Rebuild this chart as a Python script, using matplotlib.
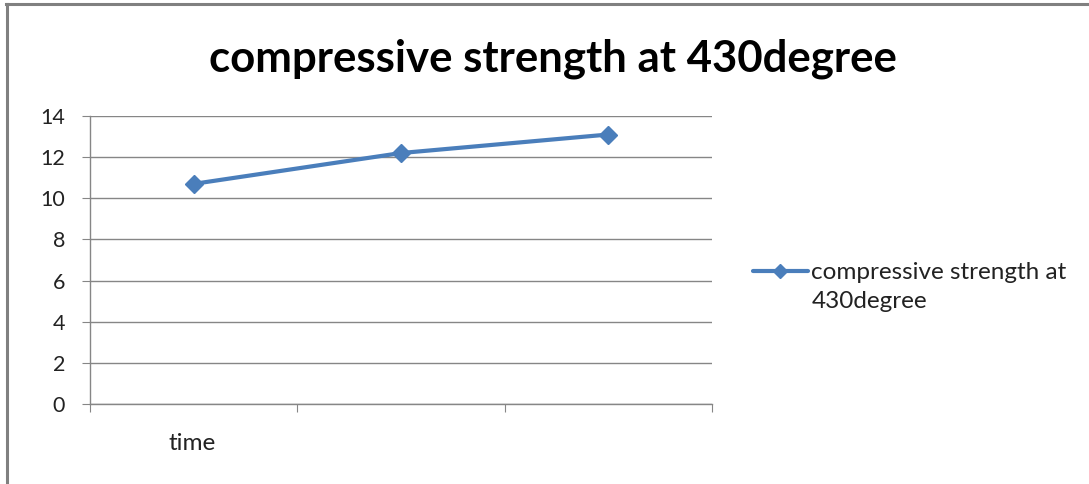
import matplotlib
matplotlib.use("Agg")
import matplotlib.pyplot as plt
from matplotlib.lines import Line2D
from matplotlib.legend_handler import HandlerLine2D

categories = ["1", "2", "3"]
values = [10.7, 12.2, 13.1]
series_name = "compressive strength at\n430degree"
title = "compressive strength at 430degree"
yticks = [0, 2, 4, 6, 8, 10, 12, 14]

W, H = 1089, 484
fig = plt.figure(figsize=(W / 100, H / 100), dpi=100)
fig.patch.set_facecolor("white")

ax = fig.add_axes([90 / W, 1 - 404 / H, (712 - 90) / W, (404 - 116) / H])
FONT = "Lato"
blue = "#4A7EBB"
grid = "#868686"
txt = "#222222"

x = list(range(len(categories)))
ax.plot(x, values, color=blue, lw=3, marker="D", ms=9, mfc=blue, mec=blue,
        label=series_name, solid_capstyle="round")

ax.set_xlim(-0.5, len(categories) - 0.5)
ax.set_ylim(0, 14)
ax.set_yticks(yticks)
ax.set_yticklabels([str(t) for t in yticks], fontfamily=FONT, fontsize=15.5, color=txt)
ax.yaxis.grid(True, color=grid, lw=1.0)
ax.set_axisbelow(True)
ax.set_xticks([])
ax.set_xticks([i - 0.5 for i in range(len(categories) + 1)], minor=True)
ax.tick_params(axis="x", which="minor", length=6, width=0.8, color=grid, direction="out")
ax.tick_params(axis="y", length=6, width=0.8, color=grid, pad=12)
for s in ["top", "right"]:
    ax.spines[s].set_visible(False)
for s in ["left", "bottom"]:
    ax.spines[s].set_color(grid)
    ax.spines[s].set_linewidth(1.0)

fig.text(553 / W, 1 - 59 / H, title, ha="center", va="center",
         fontfamily=FONT, fontweight="bold", fontsize=31.5)
fig.text(192 / W, 1 - 444 / H, "time", ha="center", va="center",
         fontfamily=FONT, fontsize=17.5, color=txt)


class ShiftedHandler(HandlerLine2D):
    def __init__(self, shift, **kw):
        super().__init__(**kw)
        self.shift = shift

    def create_artists(self, legend, orig_handle, xdescent, ydescent, width,
                       height, fontsize, trans):
        arts = super().create_artists(legend, orig_handle, xdescent, ydescent,
                                      width, height, fontsize, trans)
        for a in arts:
            a.set_ydata([y + self.shift for y in a.get_ydata()])
        return arts


line = ax.get_lines()[0]
LFS = 17.5
leg = ax.legend(handles=[line], loc="center left",
                bbox_to_anchor=(753 / W, 1 - 287 / H), bbox_transform=fig.transFigure,
                frameon=False, prop={"family": FONT, "size": LFS},
                borderpad=0, borderaxespad=0,
                handlelength=2.25, handletextpad=0.15, numpoints=1,
                handler_map={line: ShiftedHandler(shift=11.2, numpoints=1)})
for t in leg.get_texts():
    t.set_linespacing(1.48)
    t.set_color(txt)
for h in leg.legend_handles:
    h.set_markersize(7)

fig.add_artist(Line2D([6 / W, 1], [1 - 4 / H, 1 - 4 / H], transform=fig.transFigure,
                      color="#808080", lw=2.2))
fig.add_artist(Line2D([7 / W, 7 / W], [0, 1 - 4 / H], transform=fig.transFigure,
                      color="#808080", lw=2.2))

fig.savefig("out.png", dpi=100)
